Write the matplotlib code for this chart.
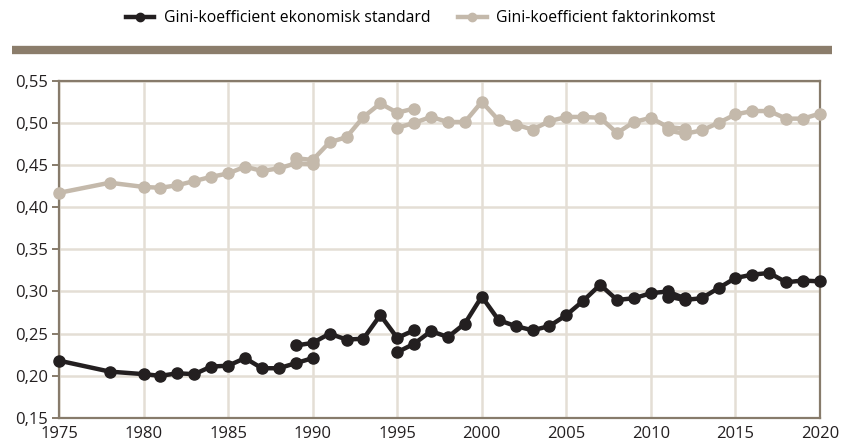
import matplotlib.pyplot as plt
from matplotlib.lines import Line2D
from matplotlib.ticker import FuncFormatter

# Gini, ekonomisk standard - series split at the method breaks
std_years_a = [1975, 1978, 1980, 1981, 1982, 1983, 1984, 1985, 1986, 1987, 1988, 1989, 1990]
std_a = [0.218, 0.205, 0.202, 0.200, 0.203, 0.202, 0.211, 0.212, 0.221, 0.209, 0.209, 0.215, 0.221]
std_years_b = [1989, 1990, 1991, 1992, 1993, 1994, 1995, 1996]
std_b = [0.236, 0.239, 0.250, 0.243, 0.244, 0.272, 0.245, 0.254]
std_years_c = list(range(1995, 2013))
std_c = [0.228, 0.238, 0.253, 0.246, 0.262, 0.294, 0.266, 0.259, 0.254, 0.259,
         0.272, 0.289, 0.308, 0.290, 0.292, 0.298, 0.300, 0.292]
std_years_d = list(range(2011, 2021))
std_d = [0.294, 0.290, 0.292, 0.304, 0.316, 0.320, 0.322, 0.311, 0.313, 0.312]

# Gini, faktorinkomst
fak_years_a = std_years_a
fak_a = [0.417, 0.429, 0.424, 0.423, 0.426, 0.431, 0.436, 0.440, 0.448, 0.443, 0.446, 0.452, 0.451]
fak_years_b = std_years_b
fak_b = [0.458, 0.456, 0.477, 0.483, 0.507, 0.523, 0.512, 0.517]
fak_years_c = std_years_c
fak_c = [0.494, 0.500, 0.507, 0.501, 0.501, 0.525, 0.503, 0.498, 0.492, 0.502,
         0.507, 0.507, 0.506, 0.488, 0.501, 0.506, 0.495, 0.493]
fak_years_d = std_years_d
fak_d = [0.491, 0.487, 0.491, 0.500, 0.510, 0.514, 0.514, 0.505, 0.505, 0.511]

labels = ['Gini-koefficient ekonomisk standard', 'Gini-koefficient faktorinkomst']

black = '#231f20'
grey = '#c4b9ab'
brown = '#877b6b'
gridc = '#e4ded5'

plt.rcParams['font.family'] = ['Open Sans', 'DejaVu Sans']

fig = plt.figure(figsize=(8.41, 4.47), dpi=100)
ax = fig.add_axes([0.0702, 0.0649, 0.9048, 0.7546])

style = dict(linewidth=3.2, marker='o', markersize=8, clip_on=False, zorder=3)
for yrs, vals in [(fak_years_a, fak_a), (fak_years_b, fak_b), (fak_years_c, fak_c), (fak_years_d, fak_d)]:
    ax.plot(yrs, vals, color=grey, **style)
for yrs, vals in [(std_years_a, std_a), (std_years_b, std_b), (std_years_c, std_c), (std_years_d, std_d)]:
    ax.plot(yrs, vals, color=black, **style)

ax.set_xlim(1975, 2020)
ax.set_ylim(0.15, 0.55)
ax.set_xticks(range(1975, 2021, 5))
ax.set_yticks([0.15, 0.20, 0.25, 0.30, 0.35, 0.40, 0.45, 0.50, 0.55])
ax.yaxis.set_major_formatter(FuncFormatter(lambda v, p: f'{v:.2f}'.replace('.', ',')))
ax.grid(True, color=gridc, linewidth=1.8, zorder=0)
ax.set_axisbelow(True)
for s in ax.spines.values():
    s.set_color(brown)
    s.set_linewidth(1.6)
ax.tick_params(axis='x', length=0, pad=6, labelsize=12, labelcolor='#231f20')
ax.tick_params(axis='y', length=5, width=1.4, color=brown, pad=3, labelsize=12, labelcolor='#231f20')

# legend on top
handles = [Line2D([], [], color=black, linewidth=3.2, marker='o', markersize=6),
           Line2D([], [], color=grey, linewidth=3.2, marker='o', markersize=6)]
fig.legend(handles, labels, loc='center', bbox_to_anchor=(0.5, 1 - 18 / 447), ncol=2,
           frameon=False, fontsize=11.3, handlelength=1.8, columnspacing=1.8, handletextpad=0.6)

# thick brown rule under the legend
fig.add_artist(Line2D([12 / 841, 832 / 841], [1 - 49.5 / 447, 1 - 49.5 / 447],
                      color='#8b7d6b', linewidth=6, solid_capstyle='butt'))

fig.savefig('out.png', dpi=100)
